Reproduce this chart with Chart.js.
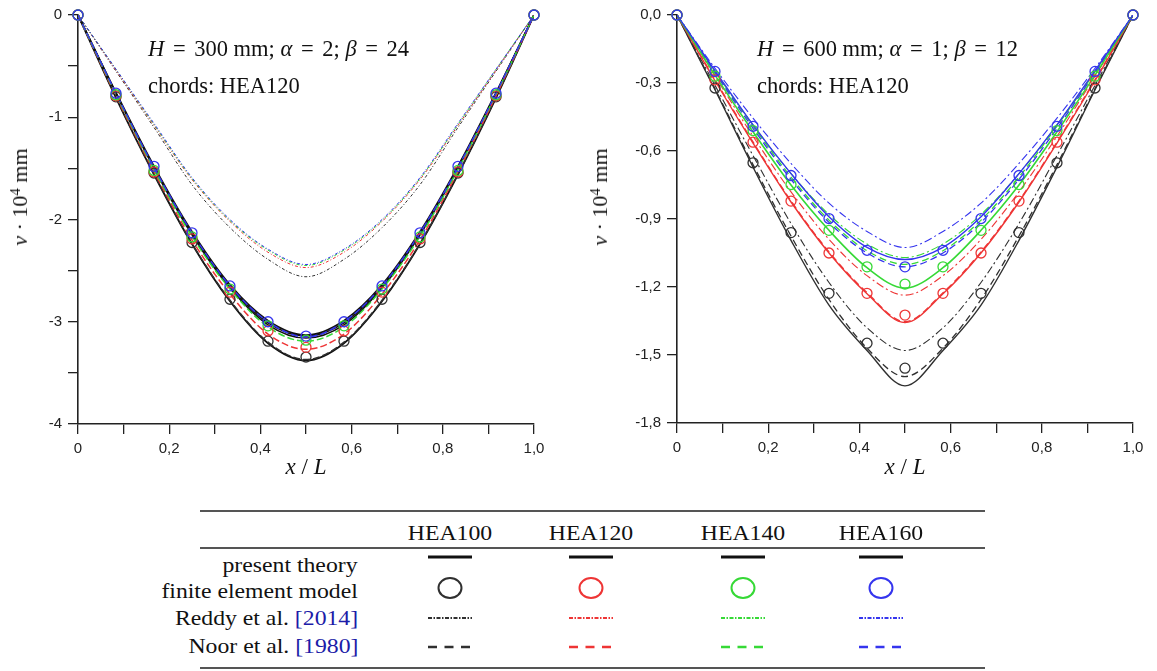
<!DOCTYPE html>
<html>
<head>
<meta charset="utf-8">
<script src="https://cdn.jsdelivr.net/npm/chart.js@4.4.0/dist/chart.umd.min.js"></script>
<style>
body{margin:0;background:#fff;width:1157px;height:671px;overflow:hidden;position:relative;font-family:"Liberation Serif","Times New Roman",serif;color:#111}
canvas{position:absolute;top:0}
#c1{left:0}
#c2{left:580px}
.t{position:absolute;white-space:nowrap;line-height:1}
.note{font-size:22.5px}
.eq{margin:0 3px}
.yt{font-size:22px;transform:translate(-50%,-50%) rotate(-90deg)}
.xt{font-size:23px;transform:translate(-50%,-50%)}
sup{font-size:0.68em;vertical-align:0.5em;line-height:0}
.hd{font-size:21px;transform:translate(-50%,-50%) scaleX(1.13)}
.row{font-size:21px;transform:translateY(-50%) scaleX(1.13);transform-origin:right center;text-align:right}
.yr{color:#1c1ca8}
.rule{position:absolute;left:200px;width:785px;height:2px;background:#555}
</style>
</head>
<body>
<canvas id="c1" width="560" height="485"></canvas>
<canvas id="c2" width="577" height="484"></canvas>

<div class="t note" style="left:148px;top:38px"><i>H</i> <span class="eq">=</span> 300 mm; <i>α</i> <span class="eq">=</span> 2; <i>β</i> <span class="eq">=</span> 24</div>
<div class="t note" style="left:148px;top:75px">chords: HEA120</div>
<div class="t note" style="left:757px;top:38px"><i>H</i> <span class="eq">=</span> 600 mm; <i>α</i> <span class="eq">=</span> 1; <i>β</i> <span class="eq">=</span> 12</div>
<div class="t note" style="left:757px;top:75px">chords: HEA120</div>

<div class="t yt" style="left:20px;top:197px"><i>ν</i> · 10<sup>4</sup> mm</div>
<div class="t yt" style="left:600px;top:197px"><i>ν</i> · 10<sup>4</sup> mm</div>
<div class="t xt" style="left:306px;top:466px"><i>x</i> / <i>L</i></div>
<div class="t xt" style="left:905px;top:466px"><i>x</i> / <i>L</i></div>

<div class="rule" style="top:510px"></div>
<div class="rule" style="top:547px"></div>
<div class="rule" style="top:667px"></div>
<div id="legend"></div>
<svg id="samples" width="1157" height="671" style="position:absolute;left:0;top:0"></svg>

<script>
// x/L positions of the finite element nodes and of the curve points
const xPos = [0, 0.0833, 0.1667, 0.25, 0.3333, 0.4167, 0.5, 0.5833, 0.6667, 0.75, 0.8333, 0.9167, 1];
const profiles = ['HEA100', 'HEA120', 'HEA140', 'HEA160'];
const rowLabels = ['present theory', 'finite element model', 'Reddy et al. ', 'Noor et al. '];
const rowYears = ['', '', '[2014]', '[1980]'];

// left chart: H = 300 mm
const leftTheory100 = [0, -0.81, -1.56, -2.24, -2.80, -3.21, -3.38, -3.21, -2.80, -2.24, -1.56, -0.81, 0];
const leftTheory120 = [0, -0.77, -1.50, -2.15, -2.67, -3.03, -3.16, -3.03, -2.67, -2.15, -1.50, -0.77, 0];
const leftTheory140 = [0, -0.765, -1.49, -2.14, -2.655, -3.01, -3.14, -3.01, -2.655, -2.14, -1.49, -0.765, 0];
const leftTheory160 = [0, -0.76, -1.48, -2.12, -2.64, -2.99, -3.13, -2.99, -2.64, -2.12, -1.48, -0.76, 0];
const leftFE100 = [0, -0.80, -1.545, -2.225, -2.78, -3.19, -3.345, -3.19, -2.78, -2.225, -1.545, -0.80, 0];
const leftFE120 = [0, -0.79, -1.535, -2.19, -2.71, -3.09, -3.25, -3.09, -2.71, -2.19, -1.535, -0.79, 0];
const leftFE140 = [0, -0.78, -1.52, -2.17, -2.68, -3.04, -3.18, -3.04, -2.68, -2.17, -1.52, -0.78, 0];
const leftFE160 = [0, -0.765, -1.48, -2.13, -2.65, -3.00, -3.14, -3.00, -2.65, -2.13, -1.48, -0.765, 0];
const leftReddy100 = [0, -0.55, -1.10, -1.66, -2.08, -2.39, -2.56, -2.39, -2.08, -1.66, -1.10, -0.55, 0];
const leftReddy120 = [0, -0.54, -1.08, -1.61, -2.02, -2.32, -2.47, -2.32, -2.02, -1.61, -1.08, -0.54, 0];
const leftReddy140 = [0, -0.53, -1.07, -1.60, -2.01, -2.30, -2.45, -2.30, -2.01, -1.60, -1.07, -0.53, 0];
const leftReddy160 = [0, -0.53, -1.06, -1.59, -2.00, -2.29, -2.44, -2.29, -2.00, -1.59, -1.06, -0.53, 0];
const leftNoor100 = [0, -0.805, -1.555, -2.235, -2.79, -3.20, -3.37, -3.20, -2.79, -2.235, -1.555, -0.805, 0];
const leftNoor120 = [0, -0.79, -1.53, -2.20, -2.73, -3.12, -3.27, -3.12, -2.73, -2.20, -1.53, -0.79, 0];
const leftNoor140 = [0, -0.775, -1.51, -2.165, -2.68, -3.05, -3.19, -3.05, -2.68, -2.165, -1.51, -0.775, 0];
const leftNoor160 = [0, -0.765, -1.49, -2.13, -2.65, -3.00, -3.15, -3.00, -2.65, -2.13, -1.49, -0.765, 0];

// right chart: H = 600 mm
const rightTheory100 = [0, -0.33, -0.671, -0.994, -1.28, -1.48, -1.636, -1.48, -1.28, -0.994, -0.671, -0.33, 0];
const rightTheory120 = [0, -0.29, -0.565, -0.825, -1.05, -1.23, -1.357, -1.23, -1.05, -0.825, -0.565, -0.29, 0];
const rightTheory140 = [0, -0.265, -0.515, -0.75, -0.95, -1.115, -1.205, -1.115, -0.95, -0.75, -0.515, -0.265, 0];
const rightTheory160 = [0, -0.245, -0.485, -0.70, -0.89, -1.025, -1.079, -1.025, -0.89, -0.70, -0.485, -0.245, 0];
const rightFE100 = [0, -0.322, -0.652, -0.96, -1.228, -1.448, -1.558, -1.448, -1.228, -0.96, -0.652, -0.322, 0];
const rightFE120 = [0, -0.286, -0.561, -0.821, -1.05, -1.228, -1.324, -1.228, -1.05, -0.821, -0.561, -0.286, 0];
const rightFE140 = [0, -0.27, -0.51, -0.748, -0.95, -1.111, -1.187, -1.111, -0.95, -0.748, -0.51, -0.27, 0];
const rightFE160 = [0, -0.249, -0.491, -0.708, -0.898, -1.038, -1.111, -1.038, -0.898, -0.708, -0.491, -0.249, 0];
const rightReddy100 = [0, -0.31, -0.62, -0.92, -1.18, -1.38, -1.48, -1.38, -1.18, -0.92, -0.62, -0.31, 0];
const rightReddy120 = [0, -0.27, -0.535, -0.78, -0.99, -1.15, -1.236, -1.15, -0.99, -0.78, -0.535, -0.27, 0];
const rightReddy140 = [0, -0.25, -0.485, -0.70, -0.88, -1.01, -1.07, -1.01, -0.88, -0.70, -0.485, -0.25, 0];
const rightReddy160 = [0, -0.235, -0.455, -0.655, -0.83, -0.955, -1.026, -0.955, -0.83, -0.655, -0.455, -0.235, 0];
const rightNoor100 = [0, -0.325, -0.66, -0.975, -1.255, -1.47, -1.595, -1.47, -1.255, -0.975, -0.66, -0.325, 0];
const rightNoor120 = [0, -0.285, -0.56, -0.82, -1.045, -1.225, -1.353, -1.225, -1.045, -0.82, -0.56, -0.285, 0];
const rightNoor140 = [0, -0.25, -0.49, -0.715, -0.905, -1.04, -1.10, -1.04, -0.905, -0.715, -0.49, -0.25, 0];
const rightNoor160 = [0, -0.255, -0.50, -0.725, -0.915, -1.05, -1.111, -1.05, -0.915, -0.725, -0.50, -0.255, 0];

const colors = ['#303030', '#ee3535', '#36d936', '#3535ee'];
const axisCol = '#222';

function pts(ys) {
  return ys.map((y, i) => ({x: xPos[i], y: y}));
}

function lineSet(label, ys, color, dash, width, order) {
  return {label: label, data: pts(ys), borderColor: color, borderWidth: width, borderDash: dash,
    pointRadius: 0, fill: false, cubicInterpolationMode: 'monotone', order: order};
}

function feSet(label, ys, color, order) {
  return {label: label, data: pts(ys), showLine: false, pointRadius: 5, pointHoverRadius: 5,
    pointBorderWidth: 1.3, pointBorderColor: color, pointBackgroundColor: 'rgba(0,0,0,0)',
    borderColor: color, order: order, clip: false};
}

function commaLabel(v, digits) {
  if (Math.abs(v) < 1e-9) v = 0;
  return v.toFixed(digits).replace('.', ',');
}

function makeChart(id, sets, yMin, yStep, yLabel, yWidth, pad) {
  return new Chart(document.getElementById(id), {
    type: 'line',
    data: {datasets: sets},
    options: {
      responsive: false,
      animation: false,
      events: [],
      layout: {padding: pad},
      plugins: {legend: {display: false}, tooltip: {enabled: false}},
      scales: {
        x: {
          type: 'linear', min: 0, max: 1,
          ticks: {
            stepSize: 0.1, autoSkip: false, maxRotation: 0, padding: 6,
            color: axisCol, font: {family: 'Liberation Sans', size: 15},
            callback: v => {
              const k = Math.round(v * 10);
              if (k % 2) return '';
              return k === 0 ? '0' : commaLabel(k / 10, 1);
            }
          },
          grid: {display: true, drawOnChartArea: false, drawTicks: true, tickLength: 10, color: axisCol, lineWidth: 1.3},
          border: {display: true, color: axisCol, width: 1.6},
          afterFit: s => { s.height = 61; }
        },
        y: {
          type: 'linear', min: yMin, max: 0,
          ticks: {
            stepSize: yStep, autoSkip: false, padding: 6,
            color: axisCol, font: {family: 'Liberation Sans', size: 15},
            callback: yLabel
          },
          grid: {display: true, drawOnChartArea: false, drawTicks: true, tickLength: 10, color: axisCol, lineWidth: 1.3},
          border: {display: true, color: axisCol, width: 1.6},
          afterFit: s => { s.width = yWidth; }
        }
      }
    }
  });
}

// left chart: present theory in black, Noor dashed in colour
const leftSets = [
  feSet('FE HEA160', leftFE160, colors[3], 0),
  feSet('FE HEA140', leftFE140, colors[2], 1),
  feSet('FE HEA120', leftFE120, colors[1], 2),
  feSet('FE HEA100', leftFE100, colors[0], 3),
  lineSet('Noor HEA160', leftNoor160, colors[3], [7, 3], 1.5, 4),
  lineSet('Noor HEA140', leftNoor140, colors[2], [7, 3], 1.5, 5),
  lineSet('Noor HEA120', leftNoor120, colors[1], [7, 3], 1.5, 6),
  lineSet('Noor HEA100', leftNoor100, colors[0], [7, 3], 1.5, 7),
  lineSet('theory HEA160', leftTheory160, '#111', [], 1.8, 8),
  lineSet('theory HEA140', leftTheory140, '#111', [], 1.5, 9),
  lineSet('theory HEA120', leftTheory120, '#111', [], 1.5, 10),
  lineSet('theory HEA100', leftTheory100, '#111', [], 1.8, 11),
  lineSet('Reddy HEA160', leftReddy160, colors[3], [3, 2, 1, 2], 1, 12),
  lineSet('Reddy HEA140', leftReddy140, colors[2], [3, 2, 1, 2], 1, 13),
  lineSet('Reddy HEA120', leftReddy120, colors[1], [3, 2, 1, 2], 1, 14),
  lineSet('Reddy HEA100', leftReddy100, colors[0], [3, 2, 1, 2], 1, 15)
];

const rightSets = [
  feSet('FE HEA160', rightFE160, colors[3], 0),
  feSet('FE HEA140', rightFE140, colors[2], 1),
  feSet('FE HEA120', rightFE120, colors[1], 2),
  feSet('FE HEA100', rightFE100, colors[0], 3),
  lineSet('theory HEA160', rightTheory160, colors[3], [], 1.4, 4),
  lineSet('theory HEA140', rightTheory140, colors[2], [], 1.6, 5),
  lineSet('theory HEA120', rightTheory120, colors[1], [], 1.4, 6),
  lineSet('theory HEA100', rightTheory100, colors[0], [], 1.4, 7),
  lineSet('Noor HEA160', rightNoor160, colors[3], [7, 4], 1.3, 8),
  lineSet('Noor HEA140', rightNoor140, colors[2], [7, 4], 1.3, 9),
  lineSet('Noor HEA120', rightNoor120, colors[1], [7, 4], 1.3, 10),
  lineSet('Noor HEA100', rightNoor100, colors[0], [7, 4], 1.3, 11),
  lineSet('Reddy HEA160', rightReddy160, colors[3], [8, 3, 2, 3], 1.1, 12),
  lineSet('Reddy HEA140', rightReddy140, colors[2], [8, 3, 2, 3], 1.1, 13),
  lineSet('Reddy HEA120', rightReddy120, colors[1], [8, 3, 2, 3], 1.1, 14),
  lineSet('Reddy HEA100', rightReddy100, colors[0], [8, 3, 2, 3], 1.1, 15)
];

makeChart('c1', leftSets, -4, 0.5, v => (Math.round(v * 2) % 2 ? '' : String(Math.round(v))), 78,
  {top: 13, right: 26, left: 0, bottom: 0});
makeChart('c2', rightSets, -1.8, 0.3, v => commaLabel(v, 1), 97,
  {top: 14, right: 24, left: 0, bottom: 0});

// legend table underneath
const colX = [450, 591, 743, 881];
const rowY = [565, 591, 618, 646];
let html = '';
profiles.forEach((p, i) => {
  html += '<div class="t hd" style="left:' + colX[i] + 'px;top:533px">' + p + '</div>';
});
rowLabels.forEach((r, i) => {
  html += '<div class="t row" style="right:799px;top:' + rowY[i] + 'px">' + r +
    (rowYears[i] ? '<span class="yr">' + rowYears[i] + '</span>' : '') + '</div>';
});
document.getElementById('legend').innerHTML = html;

const svg = document.getElementById('samples');
let s = '';
colX.forEach((cx, i) => {
  s += '<line x1="' + (cx - 22) + '" y1="557" x2="' + (cx + 22) + '" y2="557" stroke="#111" stroke-width="3"/>';
  s += '<ellipse cx="' + cx + '" cy="588" rx="11.5" ry="10" fill="none" stroke="' + colors[i] + '" stroke-width="2"/>';
  s += '<line x1="' + (cx - 22) + '" y1="618" x2="' + (cx + 22) + '" y2="618" stroke="' + colors[i] + '" stroke-width="2" stroke-dasharray="4 1.5 1.5 1.5"/>';
  s += '<line x1="' + (cx - 22) + '" y1="647" x2="' + (cx + 22) + '" y2="647" stroke="' + colors[i] + '" stroke-width="2.5" stroke-dasharray="9 7.5"/>';
});
svg.innerHTML = s;
</script>
</body>
</html>
